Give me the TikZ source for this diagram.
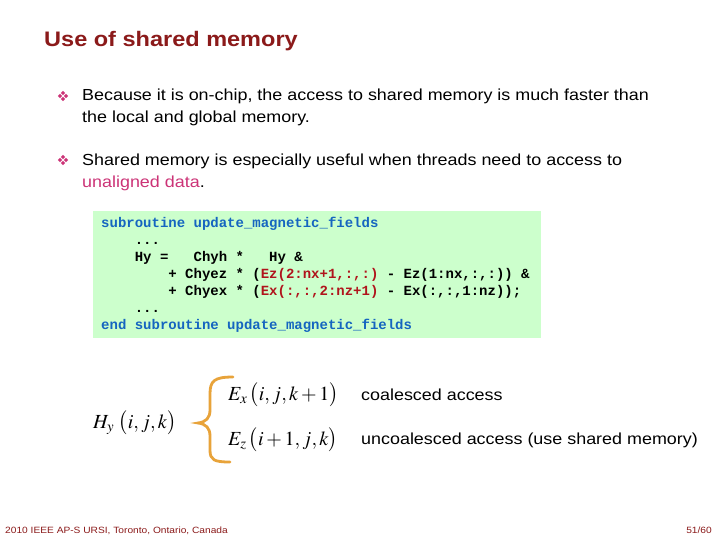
\documentclass[tikz,border=0pt]{standalone}
\usepackage{mathptmx}
\usepackage{fontspec}
\setmainfont[FakeStretch=1.12]{Liberation Sans}
\setmonofont{Liberation Mono}
\usetikzlibrary{calc}

\definecolor{titlered}{HTML}{8B1A1A}
\definecolor{bulletpink}{HTML}{CC3377}
\definecolor{codegreen}{HTML}{CCFFCC}
\definecolor{codeblue}{HTML}{1565C0}
\definecolor{codered}{HTML}{B0141C}
\definecolor{braceorange}{HTML}{E8A33A}

\tikzset{
  body/.style={anchor=base west, inner sep=0pt, font=\fontsize{16}{19}\selectfont},
  codeline/.style={anchor=base west, inner sep=0pt, font=\fontsize{14}{17}\ttfamily\bfseries},
  formula/.style={anchor=west, inner sep=0pt, font=\fontsize{20}{24}\selectfont},
  footer/.style={anchor=base west, inner sep=0pt, text=titlered, font=\fontsize{9.1}{11}\selectfont},
}

\begin{document}
\begin{tikzpicture}[x=1pt,y=-1pt]
  \useasboundingbox[fill=white] (0,0) rectangle (720,540);
  \node[anchor=base west, inner sep=0pt, text=titlered, font=\fontsize{21}{25}\selectfont\bfseries] (title) at (44,47) {Use of shared memory};

  % bullets
  \coordinate (b1) at (63,96);
  \coordinate (b2) at (63,160);
  \foreach \b in {b1,b2}{
    \foreach \dx/\dy in {-3/0,3/0,0/-3,0/3}{
      \fill[bulletpink] ($(\b)+(\dx,\dy)$) +(0,-2.2) -- +(2.2,0) -- +(0,2.2) -- +(-2.2,0) -- cycle;
    }
  }
  \node[body] (onchipa) at (82,101) {Because it is on-chip, the access to shared memory is much faster than};
  \node[body] (onchipb) at (82,123) {the local and global memory.};
  \node[body] (unaligna) at (82,166) {Shared memory is especially useful when threads need to access to};
  \node[body] (unalignb) at (82,188) {\textcolor{bulletpink}{unaligned data}.};

  % code block
  \node[fill=codegreen, anchor=north west, inner sep=0pt, minimum width=448pt, minimum height=127pt] (codebox) at (93,211) {};
  \node[codeline, text=codeblue] (sub) at (101,227) {subroutine update\_magnetic\_fields};
  \node[codeline] (dotsa) at (101,244) {~~~~...};
  \node[codeline] (hyline) at (101,261) {~~~~Hy~=~~~Chyh~*~~~Hy~\&};
  \node[codeline] (ezline) at (101,278) {~~~~~~~~+~Chyez~*~(\textcolor{codered}{Ez(2:nx+1,:,:)}~-~Ez(1:nx,:,:))~\&};
  \node[codeline] (exline) at (101,295) {~~~~~~~~+~Chyex~*~(\textcolor{codered}{Ex(:,:,2:nz+1)}~-~Ex(:,:,1:nz));};
  \node[codeline] (dotsb) at (101,312) {~~~~...};
  \node[codeline, text=codeblue] (endsub) at (101,329) {end subroutine update\_magnetic\_fields};

  % access pattern
  \node[formula] (hy) at (93,423) {$H_y\;\bigl(i,j,k\bigr)$};
  \draw[braceorange, line width=2.8pt, line cap=round]
    (233,377) .. controls (214,377) and (210,381) .. (210,394) -- (210,410)
    .. controls (210,418) and (206,422) .. (198,423)
    .. controls (206,424) and (210,428) .. (210,436) -- (210,450)
    .. controls (210,460) and (214,462) .. (230,462);
  \node[formula] (ex) at (228,395) {$E_x\,\bigl(i,j,k+1\bigr)$};
  \node[formula] (ez) at (228,440) {$E_z\,\bigl(i+1,j,k\bigr)$};
  \node[body] (coal) at (361,400) {coalesced access};
  \node[body] (uncoal) at (361,444) {uncoalesced access (use shared memory)};

  % footer
  \node[footer] (venue) at (5,533) {2010 IEEE AP-S URSI, Toronto, Ontario, Canada};
  \node[footer, anchor=base east] (page) at (712,533) {51/60};
\end{tikzpicture}
\end{document}
